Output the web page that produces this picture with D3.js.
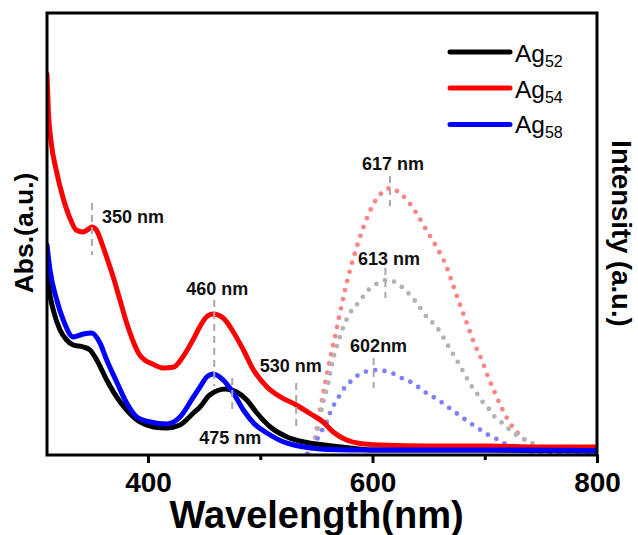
<!DOCTYPE html>
<html><head><meta charset="utf-8">
<script src="https://cdn.jsdelivr.net/npm/d3@7"></script>
<style>html,body{margin:0;padding:0;background:#fff;} svg{display:block;font-family:"Liberation Sans",Arial,Helvetica,sans-serif;}</style>
</head><body><svg id="c" width="638" height="535"></svg>
<script>
// ---------- data ----------
const xTicks = [400, 600, 800];
const xMinorTicks = [500, 700];
const legendBase = ["Ag", "Ag", "Ag"];
const legendSub = ["52", "54", "58"];

// absorption (solid)
const ag52Wl  = [310,312,315.6,321.6,327.5,333.4,342.4,348.3,354.3,363.2,372.1,381,392.9,404.8,416.7,428.5,440.4,446.3,455,469,479,488,497,509,524,539,557,580,600,700,800];
const ag52Abs = [1.87,1.65,1.45,1.25,1.15,1.10,1.08,1.05,0.95,0.75,0.58,0.45,0.33,0.28,0.27,0.30,0.42,0.48,0.60,0.66,0.63,0.55,0.42,0.28,0.18,0.13,0.10,0.07,0.05,0.05,0.04];
const ag54Wl  = [310,311.2,313.8,318.2,324.1,330,336,342,347,350,354,360,364,369,375,381,387,392,397,404,414,423,431,440,446,452,458,467,476,485,494,506,518,532,545,556,565,577,589,607,650,700,750,800];
const ag54Abs = [3.81,3.45,3.12,2.85,2.58,2.38,2.25,2.23,2.26,2.28,2.25,2.08,1.95,1.78,1.55,1.32,1.13,1.01,0.95,0.91,0.87,0.88,0.98,1.15,1.28,1.38,1.41,1.37,1.23,1.05,0.85,0.68,0.58,0.50,0.41,0.33,0.23,0.15,0.115,0.10,0.09,0.09,0.08,0.08];
const ag58Wl  = [310,312.7,318.7,324.5,333.4,342.4,349.8,357.2,363.2,372.1,381,390,402,416.7,428.5,440.4,446.3,452.3,458.2,467,476,485,494,506,521,530,545,560,600,700,800];
const ag58Abs = [2.10,1.85,1.55,1.35,1.18,1.21,1.22,1.12,0.95,0.73,0.52,0.38,0.33,0.31,0.38,0.58,0.68,0.78,0.81,0.75,0.62,0.45,0.32,0.22,0.13,0.10,0.07,0.055,0.05,0.05,0.045];

// emission (dotted)
const em617Wl = [542,545,549,553,557.5,562,566.5,571,575.5,580,586,592,599,608,617,624,630,639,648,657,666,672,678,684,690,697,703,709.5,716,723,733,740,749,760,780,800];
const em617   = [0.01,0.04,0.18,0.43,0.70,0.95,1.18,1.42,1.65,1.85,2.08,2.28,2.47,2.62,2.67,2.62,2.56,2.42,2.25,2.08,1.88,1.69,1.50,1.32,1.13,0.96,0.78,0.61,0.45,0.31,0.18,0.12,0.09,0.03,0.02,0.02];
const em613Wl = [542,546,550.3,553.2,556.2,560.6,563.6,568,574,580,587.3,596.3,605,612.6,621.5,629,639.4,648.3,657.2,666,670.6,675,679.5,684,688.2,693.3,698.2,703.8,709,715.6,722.5,729.9,737.9,746.3,760,780,800];
const em613   = [0.01,0.06,0.20,0.37,0.53,0.72,0.90,1.08,1.28,1.42,1.52,1.65,1.72,1.75,1.72,1.65,1.52,1.38,1.28,1.12,1.03,0.95,0.86,0.77,0.69,0.61,0.53,0.46,0.38,0.32,0.25,0.19,0.14,0.10,0.03,0.02,0.02];
const em602Wl = [542,545.8,550.3,554.7,559.2,562.1,566.6,571,575.5,580,587.3,596.3,604,614,621.5,629,636.3,643.8,651.2,658.6,666,672,679.5,686.9,693.7,701.7,709.1,716.5,724.9,740,760,800];
const em602   = [0.01,0.06,0.15,0.24,0.33,0.42,0.52,0.60,0.68,0.73,0.80,0.84,0.85,0.83,0.80,0.75,0.72,0.65,0.60,0.55,0.49,0.44,0.38,0.32,0.27,0.21,0.17,0.12,0.09,0.03,0.02,0.02];

// peak annotations
const peakLabels = ["350 nm","460 nm","475 nm","530 nm","617 nm","613 nm","602nm"];
const peakWl     = [350, 459, 475, 532, 615.5, 611.5, 601];
const peakTop    = [2.52, 1.55, 0.77, 0.72, 2.79, 1.87, 0.97];
const peakBottom = [2.00, 0.69, 0.45, 0.28, 2.49, 1.57, 0.67];

// ---------- layout ----------
const L = 47, R = 597, T = 13, B = 455;
const svg = d3.select("#c");
const x = d3.scaleLinear().domain([310, 800]).range([L, R]);
const y = d3.scaleLinear().domain([0, 4.42]).range([B, T]);
const yEm = d3.scaleLinear().domain([0, 4.42]).range([B, T]);

svg.append("defs").append("clipPath").attr("id","clip")
  .append("rect").attr("x",L).attr("y",T).attr("width",R-L).attr("height",B-T);

const plot = svg.append("g").attr("clip-path","url(#clip)");

// emission dotted
const emSeries = [
  {wl: em617Wl, v: em617, color: "#ff8585"},
  {wl: em613Wl, v: em613, color: "#b3b3b3"},
  {wl: em602Wl, v: em602, color: "#8080ff"}
];
const lineEm = d3.line().x(d => x(d[0])).y(d => yEm(d[1])).curve(d3.curveMonotoneX);
emSeries.forEach(s => {
  plot.append("path").attr("d", lineEm(d3.zip(s.wl, s.v)))
    .attr("fill","none").attr("stroke", s.color).attr("stroke-width", 4.8)
    .attr("stroke-linecap","round").attr("stroke-dasharray","0 9.4");
});

// peak marker lines
peakWl.forEach((w,i) => {
  svg.append("line").attr("x1", x(w)).attr("x2", x(w))
    .attr("y1", y(peakTop[i])).attr("y2", y(peakBottom[i]))
    .attr("stroke","#a8a8a8").attr("stroke-width",2).attr("stroke-dasharray","7 5");
});

// absorption solid
const absSeries = [
  {wl: ag52Wl, v: ag52Abs, color: "#000000"},
  {wl: ag54Wl, v: ag54Abs, color: "#ff0000"},
  {wl: ag58Wl, v: ag58Abs, color: "#0000ff"}
];
const lineAbs = d3.line().x(d => x(d[0])).y(d => y(d[1])).curve(d3.curveMonotoneX);
absSeries.forEach(s => {
  plot.append("path").attr("d", lineAbs(d3.zip(s.wl, s.v)))
    .attr("fill","none").attr("stroke", s.color).attr("stroke-width", 5)
    .attr("stroke-linejoin","round").attr("stroke-linecap","round");
});

// peak labels
const labelOffsets = [[10,19.5,"start"],[3,-5,"middle"],[-2,66,"middle"],[-5.4,-11.3,"middle"],[3,-6,"middle"],[3.5,-3,"middle"],[5,-6,"middle"]];
peakLabels.forEach((t,i) => {
  svg.append("text").attr("x", x(peakWl[i]) + labelOffsets[i][0])
    .attr("y", y(peakTop[i]) + labelOffsets[i][1])
    .attr("text-anchor", labelOffsets[i][2])
    .attr("font-size", 18).attr("font-weight","bold").attr("fill","#111").text(t);
});

// frame
svg.append("rect").attr("x",L).attr("y",T).attr("width",R-L).attr("height",B-T)
  .attr("fill","none").attr("stroke","#000").attr("stroke-width",3);

// x axis
const ax = svg.append("g").attr("transform",`translate(0,${B})`)
  .call(d3.axisBottom(x).tickValues(xTicks).tickSize(8).tickFormat(d3.format("d")));
ax.select(".domain").remove();
ax.selectAll(".tick line").attr("stroke","#000").attr("stroke-width",3);
ax.selectAll(".tick text").attr("y",17).attr("font-size",28).attr("font-weight","bold")
  .attr("font-family",'"Liberation Sans",Arial,sans-serif').attr("fill","#000");
const axm = svg.append("g").attr("transform",`translate(0,${B})`)
  .call(d3.axisBottom(x).tickValues(xMinorTicks).tickSize(5).tickFormat(""));
axm.select(".domain").remove();
axm.selectAll(".tick line").attr("stroke","#000").attr("stroke-width",3);

// axis titles
svg.append("text").attr("x", 316.5).attr("y", 528).attr("text-anchor","middle")
  .attr("font-size",38).attr("font-weight","bold").text("Wavelength(nm)");
svg.append("text").attr("transform","translate(33,233) rotate(-90)").attr("text-anchor","middle")
  .attr("font-size",26.5).attr("font-weight","bold").text("Abs.(a.u.)");
svg.append("text").attr("transform","translate(612,233.5) rotate(90)").attr("text-anchor","middle")
  .attr("font-size",27.5).attr("font-weight","bold").text("Intensity (a.u.)");

// legend
const legY = [52, 88, 124.5];
const legTextY = [61.7, 98.3, 133.3];
absSeries.forEach((s,i) => {
  svg.append("line").attr("x1",450).attr("x2",510).attr("y1",legY[i]).attr("y2",legY[i])
    .attr("stroke", s.color).attr("stroke-width",5).attr("stroke-linecap","round");
  const t = svg.append("text").attr("x",515).attr("y",legTextY[i]).attr("font-size",24.5);
  t.append("tspan").text(legendBase[i]);
  t.append("tspan").attr("font-size",16).attr("dy",5).text(legendSub[i]);
});
</script></body></html>
